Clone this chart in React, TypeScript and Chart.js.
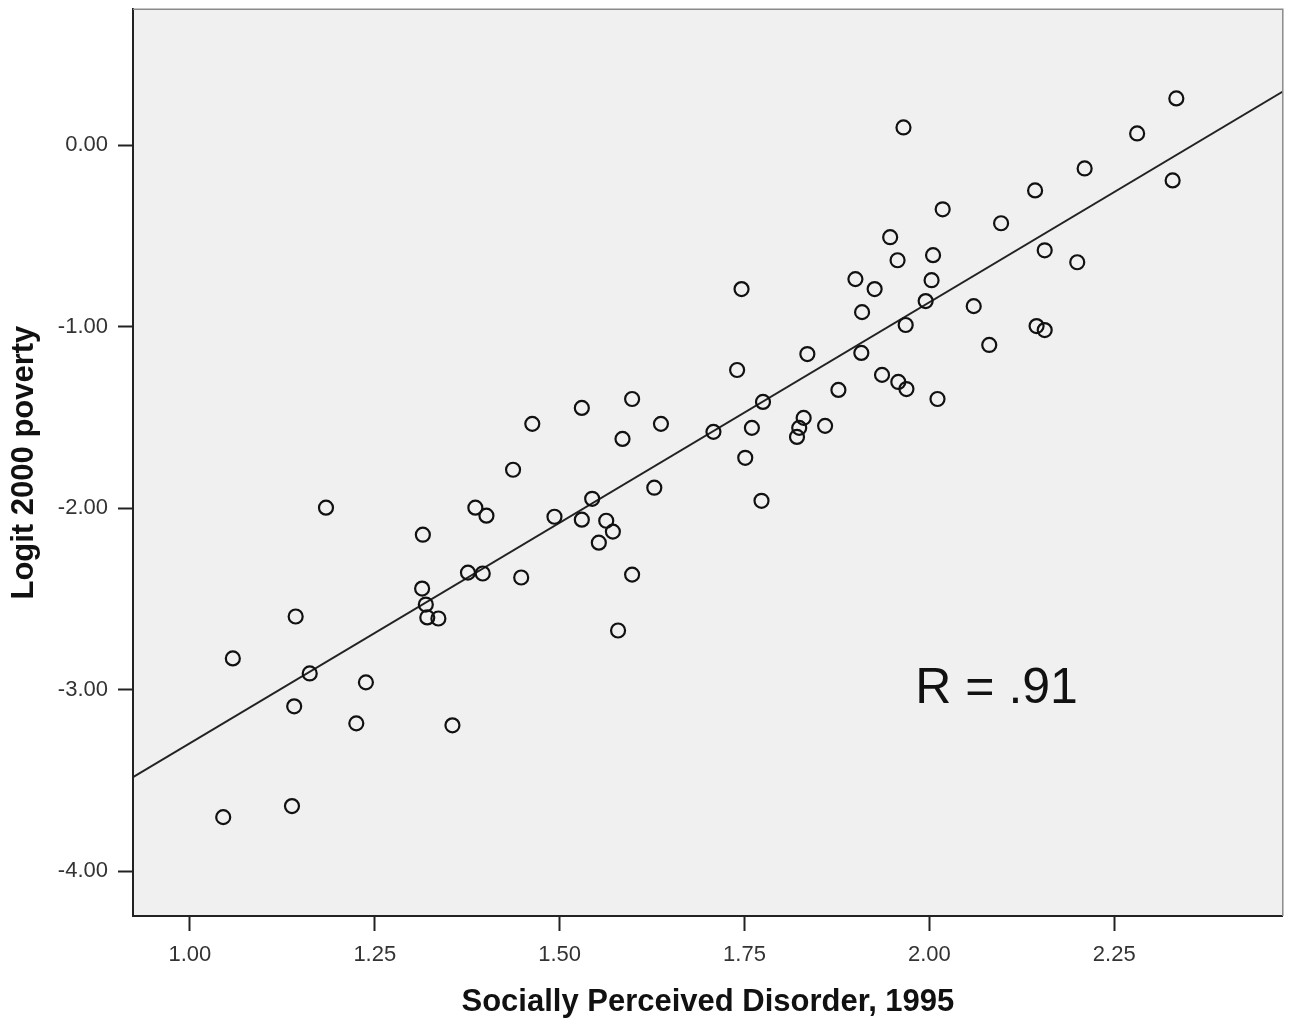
import React, { useEffect, useRef } from "react";
import { Chart, registerables } from "chart.js";

Chart.register(...registerables);

// Socially Perceived Disorder, 1995 (x) vs Logit 2000 poverty (y)
const disorder = [
  2.334, 2.281, 2.210, 2.143, 2.329, 1.965, 2.018, 1.947, 2.097, 2.156,
  1.957, 2.005, 2.003, 1.900, 1.926, 2.200, 2.060, 1.995, 1.909, 1.968,
  2.145, 2.156, 2.081, 1.908, 1.835, 1.746, 1.740, 1.877, 1.936, 1.958,
  1.969, 2.011, 1.775, 1.830, 1.824, 1.821, 1.859, 1.760, 1.751, 1.773,
  1.708, 1.598, 1.637, 1.530, 1.585, 1.463, 1.437, 1.628, 1.493, 1.530,
  1.544, 1.563, 1.572, 1.553, 1.598, 1.579, 1.386, 1.401, 1.376, 1.396,
  1.448, 1.315, 1.184, 1.314, 1.319, 1.321, 1.336, 1.143, 1.162, 1.058,
  1.238, 1.141, 1.225, 1.355, 1.138, 1.045,
];
const poverty = [
  0.259, 0.066, -0.127, -0.248, -0.193, 0.099, -0.352, -0.506, -0.429, -0.578,
  -0.633, -0.605, -0.743, -0.737, -0.792, -0.644, -0.886, -0.858, -0.919, -0.990,
  -0.996, -1.018, -1.100, -1.144, -1.150, -0.792, -1.238, -1.348, -1.265, -1.304,
  -1.343, -1.398, -1.414, -1.502, -1.557, -1.607, -1.546, -1.557, -1.722, -1.959,
  -1.579, -1.398, -1.535, -1.447, -1.618, -1.535, -1.788, -1.887, -2.047, -2.063,
  -1.948, -2.069, -2.129, -2.190, -2.366, -2.674, -1.997, -2.041, -2.355, -2.360,
  -2.382, -2.146, -1.997, -2.443, -2.531, -2.602, -2.608, -2.597, -2.911, -2.828,
  -2.960, -3.092, -3.186, -3.197, -3.642, -3.703,
];

const xTickValues = [1.0, 1.25, 1.5, 1.75, 2.0, 2.25];
const yTickValues = [-4, -3, -2, -1, 0];
const xRange = [0.923, 2.478];
const yRange = [-4.248, 0.751];

// fit line (linear regression)
const fitSlope = 2.431;
const fitIntercept = -5.727;
const fitLabel = "R = .91";
const fitLabelAt = { x: 1.981, y: -3.076 };

const xTitle = "Socially Perceived Disorder, 1995";
const yTitle = "Logit 2000 poverty";

const FONT = "'Liberation Sans', Arial, Helvetica, sans-serif";

export default function App() {
  const canvasRef = useRef<HTMLCanvasElement | null>(null);

  useEffect(() => {
    const canvas = canvasRef.current;
    if (!canvas) return;

    const points = disorder.map((x, i) => ({ x, y: poverty[i] }));
    const fitLine = xRange.map((x) => ({ x, y: fitIntercept + fitSlope * x }));

    const framePlugin = {
      id: "frame",
      beforeDraw(chart: any) {
        const { ctx, chartArea } = chart;
        ctx.save();
        ctx.fillStyle = "#f0f0f0";
        ctx.fillRect(
          chartArea.left,
          chartArea.top,
          chartArea.right - chartArea.left,
          chartArea.bottom - chartArea.top
        );
        ctx.restore();
      },
      afterDatasetsDraw(chart: any) {
        const { ctx, chartArea, scales } = chart;
        ctx.save();
        ctx.strokeStyle = "#8a8a8a";
        ctx.lineWidth = 1.5;
        ctx.beginPath();
        ctx.moveTo(chartArea.left, chartArea.top);
        ctx.lineTo(chartArea.right, chartArea.top);
        ctx.lineTo(chartArea.right, chartArea.bottom);
        ctx.stroke();
        // annotation
        ctx.fillStyle = "#111";
        ctx.font = `50px ${FONT}`;
        ctx.textAlign = "left";
        ctx.textBaseline = "alphabetic";
        ctx.fillText(
          fitLabel,
          scales.x.getPixelForValue(fitLabelAt.x),
          scales.y.getPixelForValue(fitLabelAt.y)
        );
        ctx.restore();
      },
    };

    const chart = new Chart(canvas, {
      type: "scatter",
      data: {
        datasets: [
          {
            type: "line",
            data: fitLine,
            borderColor: "#222",
            borderWidth: 2,
            pointRadius: 0,
            fill: false,
            showLine: true,
            order: 2,
          } as any,
          {
            type: "scatter",
            data: points,
            pointRadius: 7,
            pointBorderWidth: 2.2,
            borderColor: "#111",
            backgroundColor: "rgba(0,0,0,0)",
            pointStyle: "circle",
            order: 1,
          } as any,
        ],
      },
      options: {
        responsive: false,
        animation: false,
        events: [],
        layout: { padding: { top: 7, right: 9, left: 0, bottom: 0 } },
        plugins: {
          legend: { display: false },
          tooltip: { enabled: false },
        },
        scales: {
          x: {
            type: "linear",
            min: xRange[0],
            max: xRange[1],
            afterBuildTicks: (s: any) => {
              s.ticks = xTickValues.map((v) => ({ value: v }));
            },
            afterFit: (s: any) => {
              s.height = 107;
              s.paddingLeft = 0;
              s.paddingRight = 0;
            },
            ticks: {
              callback: (v: any) => Number(v).toFixed(2),
              font: { size: 22, family: FONT },
              color: "#333",
              padding: 11,
              maxRotation: 0,
              autoSkip: false,
            },
            grid: {
              drawOnChartArea: false,
              drawTicks: true,
              tickLength: 15,
              tickWidth: 2,
              tickColor: "#222",
              color: "#222",
            },
            border: { display: true, color: "#222", width: 2 },
            title: {
              display: true,
              text: xTitle,
              color: "#111",
              font: { size: 31, weight: "bold", family: FONT, lineHeight: 1.2 },
              padding: { top: 0, bottom: 2 },
            },
          },
          y: {
            type: "linear",
            min: yRange[0],
            max: yRange[1],
            afterBuildTicks: (s: any) => {
              s.ticks = yTickValues.map((v) => ({ value: v }));
            },
            afterFit: (s: any) => {
              s.width = 133;
              s.paddingTop = 0;
              s.paddingBottom = 0;
            },
            ticks: {
              callback: (v: any) => Number(v).toFixed(2),
              font: { size: 22, family: FONT },
              color: "#333",
              padding: 10,
              autoSkip: false,
            },
            grid: {
              drawOnChartArea: false,
              drawTicks: true,
              tickLength: 15,
              tickWidth: 2,
              tickColor: "#222",
              color: "#222",
            },
            border: { display: true, color: "#222", width: 2 },
            title: {
              display: true,
              text: yTitle,
              color: "#111",
              font: { size: 31, weight: "bold", family: FONT, lineHeight: 1.2 },
              padding: { top: 6, bottom: 0 },
            },
          },
        },
      } as any,
      plugins: [framePlugin],
    });

    return () => chart.destroy();
  }, []);

  return (
    <div style={{ position: "absolute", left: 0, top: 0, width: 1292, height: 1023, background: "#fff" }}>
      <canvas ref={canvasRef} width={1292} height={1023} style={{ display: "block" }} />
    </div>
  );
}
